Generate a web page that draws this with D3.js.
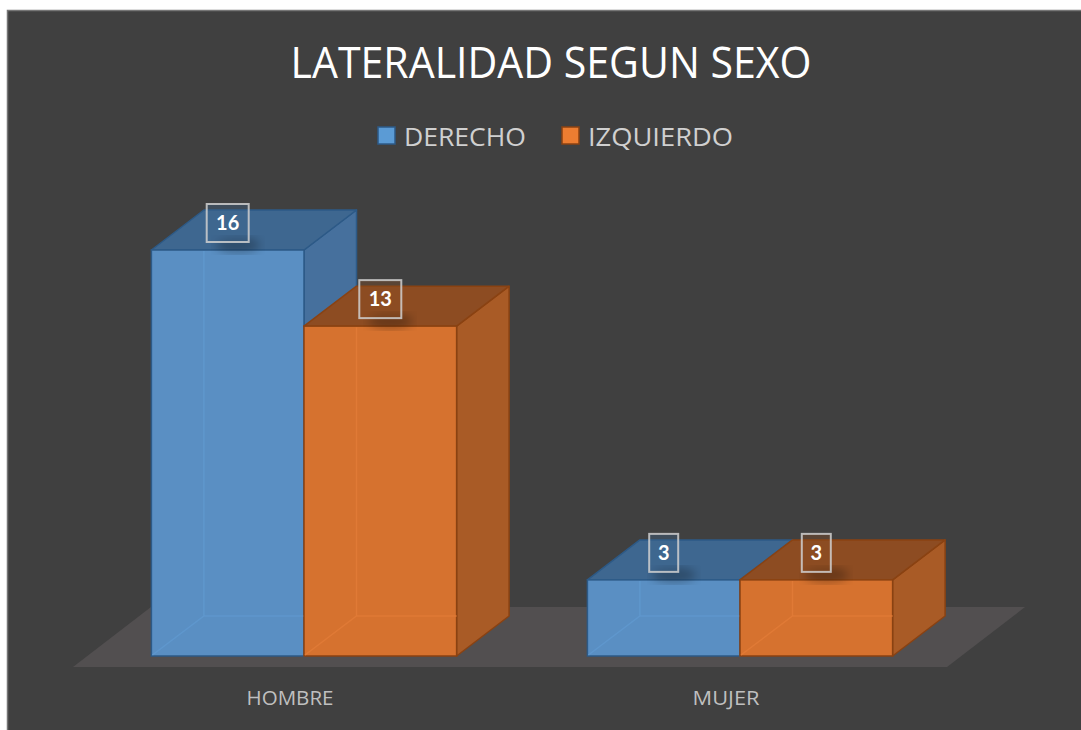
<!DOCTYPE html>
<html>
<head>
<meta charset="utf-8">
<script src="https://cdn.jsdelivr.net/npm/d3@7"></script>
<style>
  body { margin: 0; background: #ffffff; }
  svg { display: block; }
</style>
</head>
<body>
<div id="chart"></div>
<script>
// chart data
const title = "LATERALIDAD SEGUN SEXO";
const categories = ["HOMBRE", "MUJER"];
const seriesNames = ["DERECHO", "IZQUIERDO"];
const derecho = [16, 3];
const izquierdo = [13, 3];

const width = 1081, height = 730;

// face colours per series: front, side, top, edge
const palette = {
    "DERECHO":   { front: "#5a8fc3", side: "#46709d", top: "#3e6790", edge: "#2d5a87", inner: "#5f97cd", legend: "#5b9bd5" },
    "IZQUIERDO": { front: "#d6722f", side: "#a95b26", top: "#8d4c22", edge: "#8a4212", inner: "#e07a36", legend: "#ed7d31" }
};

const svg = d3.select("#chart")
    .append("svg")
    .attr("width", width)
    .attr("height", height);

// chart background
svg.append("rect")
    .attr("x", 7.5)
    .attr("y", 10.5)
    .attr("width", width)
    .attr("height", height)
    .attr("fill", "#404040")
    .attr("stroke", "#767676")
    .attr("stroke-width", 1.5);

// Scales
const xScale = d3.scaleBand()
    .domain(categories)
    .range([86, 958])
    .paddingInner(0.3)
    .paddingOuter(0.15);

const xInner = d3.scaleBand()
    .domain(seriesNames)
    .range([0, xScale.bandwidth()]);

const yScale = d3.scaleLinear()
    .domain([0, 16])
    .range([656, 250]);

// depth of the boxes
const dx = 52.5, dy = -40;

// floor
const floorFront = yScale(0) + 11;
const fx0 = xScale.range()[0] - 13, fx1 = xScale.range()[1] - 11;
svg.append("path")
    .attr("d", `M${fx0},${floorFront} L${fx1},${floorFront} L${fx1 + 78},${floorFront - 60} L${fx0 + 78},${floorFront - 60} Z`)
    .attr("fill", "#524f50");

// Build bar records
const bars = [];
categories.forEach((c, i) => {
    bars.push({ cat: c, series: "DERECHO", value: derecho[i] });
    bars.push({ cat: c, series: "IZQUIERDO", value: izquierdo[i] });
});

const poly = pts => "M" + pts.map(p => p.join(",")).join("L") + "Z";

const barG = svg.append("g");

bars.forEach(d => {
    const col = palette[d.series];
    const x0 = xScale(d.cat) + xInner(d.series);
    const x1 = x0 + xInner.bandwidth();
    const yb = yScale(0);
    const yt = yScale(d.value);
    const g = barG.append("g");

    // side face
    g.append("path")
        .attr("d", poly([[x1, yb], [x1 + dx, yb + dy], [x1 + dx, yt + dy], [x1, yt]]))
        .attr("fill", col.side)
        .attr("stroke", col.edge)
        .attr("stroke-width", 1.5)
        .attr("stroke-linejoin", "round");

    // top face
    g.append("path")
        .attr("d", poly([[x0, yt], [x1, yt], [x1 + dx, yt + dy], [x0 + dx, yt + dy]]))
        .attr("fill", col.top)
        .attr("stroke", col.edge)
        .attr("stroke-width", 1.5)
        .attr("stroke-linejoin", "round");

    // front face
    g.append("rect")
        .attr("x", x0)
        .attr("y", yt)
        .attr("width", x1 - x0)
        .attr("height", yb - yt)
        .attr("fill", col.front)
        .attr("stroke", col.edge)
        .attr("stroke-width", 1.5);

    // hidden back edges seen through the translucent front
    g.append("path")
        .attr("d", `M${x0 + 1},${yb - 1} L${x0 + dx},${yb + dy} L${x1},${yb + dy} M${x0 + dx},${yb + dy} L${x0 + dx},${yt + 1}`)
        .attr("fill", "none")
        .attr("stroke", col.inner)
        .attr("stroke-width", 1.5);
});

// data labels
const defs = svg.append("defs");
defs.append("filter")
    .attr("id", "blur")
    .append("feGaussianBlur")
    .attr("stdDeviation", 5);

bars.forEach(d => {
    const col = palette[d.series];
    const cx = xScale(d.cat) + xInner(d.series) + xInner.bandwidth() / 2;
    const cy = yScale(d.value) - 27;
    const w = String(d.value).length > 1 ? 42 : 29;
    const h = 38;

    // soft shadow under the label
    svg.append("ellipse")
        .attr("cx", cx + 10)
        .attr("cy", cy + 22)
        .attr("rx", 22)
        .attr("ry", 8)
        .attr("fill", "#000")
        .attr("opacity", 0.25)
        .attr("filter", "url(#blur)");

    svg.append("rect")
        .attr("x", cx - w / 2)
        .attr("y", cy - h / 2)
        .attr("width", w)
        .attr("height", h)
        .attr("fill", col.top)
        .attr("fill-opacity", 0.35)
        .attr("stroke", "#d0d0d0")
        .attr("stroke-opacity", 0.85)
        .attr("stroke-width", 2);

    svg.append("text")
        .attr("x", cx)
        .attr("y", cy + 7)
        .attr("text-anchor", "middle")
        .style("font-family", "Lato, 'Open Sans', sans-serif")
        .style("font-size", "20px")
        .style("font-weight", "bold")
        .style("fill", "#ffffff")
        .text(d.value);
});

// category labels
const catWidths = [87, 67];
svg.append("g")
    .selectAll("text")
    .data(categories)
    .enter()
    .append("text")
    .attr("x", d => xScale(d) + xScale.bandwidth() / 2 - 14)
    .attr("y", 705)
    .attr("text-anchor", "middle")
    .attr("textLength", (d, i) => catWidths[i])
    .attr("lengthAdjust", "spacingAndGlyphs")
    .style("font-family", "'Open Sans', Lato, sans-serif")
    .style("font-size", "20px")
    .style("fill", "#bfbfbf")
    .text(d => d);

// Add title
svg.append("text")
    .attr("x", 551)
    .attr("y", 78)
    .attr("text-anchor", "middle")
    .attr("textLength", 521)
    .attr("lengthAdjust", "spacingAndGlyphs")
    .style("font-family", "'Open Sans', Lato, sans-serif")
    .style("font-size", "43px")
    .style("fill", "#ffffff")
    .text(title);

// legend
const legendX = [377, 561];
const legendWidths = [122, 145];
const legend = svg.append("g");
seriesNames.forEach((s, i) => {
    legend.append("rect")
        .attr("x", legendX[i] + 1)
        .attr("y", 127)
        .attr("width", 17)
        .attr("height", 17)
        .attr("fill", palette[s].legend)
        .attr("stroke", palette[s].edge)
        .attr("stroke-width", 1.5);

    legend.append("text")
        .attr("x", legendX[i] + 27)
        .attr("y", 146)
        .attr("textLength", legendWidths[i])
        .attr("lengthAdjust", "spacingAndGlyphs")
        .style("font-family", "'Open Sans', Lato, sans-serif")
        .style("font-size", "26px")
        .style("fill", "#d0d0d0")
        .text(s);
});
</script>
</body>
</html>
